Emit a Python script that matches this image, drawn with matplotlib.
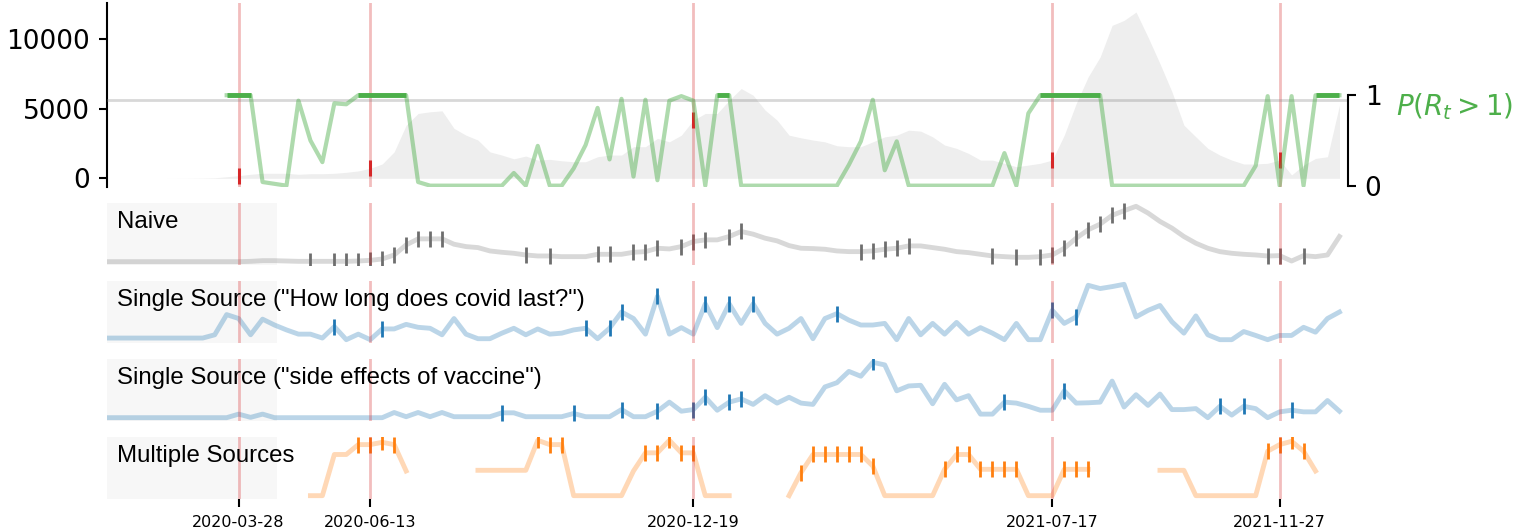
import numpy as np
import pandas as pd
import matplotlib
matplotlib.use('Agg')
import matplotlib.pyplot as plt
import matplotlib.dates as mdates
from matplotlib.patches import Rectangle

nan = np.nan

# weekly time axis and detected change points
weeks = pd.date_range('2020-01-11', periods=104, freq='7D')
change_points = pd.to_datetime(['2020-03-28', '2020-06-13', '2020-12-19', '2021-07-17', '2021-11-27'])

# weekly cases (grey area)
cases = [0, 0, 0, 0, 0, 0, 5, 10, 20, 40, 110,
         190, 290, 360, 360, 360, 290, 330, 330, 360, 430,
         530, 720, 1030, 1900, 3820, 4660, 4780, 4850, 3590, 3100,
         2750, 1900, 1670, 1400, 1600, 1310, 1360, 1260, 1190, 1190,
         1550, 1670, 1670, 2270, 2270, 2870, 2620, 3100, 4180, 4660,
         4660, 5610, 6450, 5970, 4900, 4180, 3100, 2910, 2750, 2620,
         2340, 2270, 2270, 2620, 2980, 3100, 3460, 3390, 2980, 2390,
         2150, 1790, 1310, 1310, 1080, 830, 950, 1080, 1310, 3100,
         5380, 7290, 8720, 10990, 11350, 11950, 10150, 8240, 6220, 3820,
         2980, 2150, 1670, 1310, 1030, 1030, 1080, 1310, 240, 950,
         1430, 1550, 5260]

# P(R_t > 1)
p_rt = [nan] * 10 + [
    1.0, 1.0, 1.0, 0.04, 0.02, 0.0, 0.94, 0.50, 0.26, 0.91,
    0.90, 1.0, 1.0, 1.0, 1.0, 1.0, 0.04, 0.0, 0.0, 0.0,
    0.0, 0.0, 0.0, 0.0, 0.14, 0.0, 0.44, 0.0, 0.0, 0.19,
    0.45, 0.86, 0.29, 0.96, 0.10, 0.95, 0.06, 0.94, 0.99, 0.94,
    0.0, 1.0, 1.0, 0.0, 0.0, 0.0, 0.0, 0.0, 0.0, 0.0,
    0.0, 0.0, 0.23, 0.49, 0.95, 0.17, 0.49, 0.0, 0.0, 0.0,
    0.0, 0.0, 0.0, 0.0, 0.0, 0.36, 0.0, 0.80, 1.0, 1.0,
    1.0, 1.0, 1.0, 1.0, 0.0, 0.0, 0.0, 0.0, 0.0, 0.0,
    0.0, 0.0, 0.0, 0.0, 0.0, 0.0, 0.22, 0.99, 0.0, 0.99,
    0.0, 1.0, 1.0, 1.0]

# search-volume signals (arbitrary units)
naive = [0] * 11 + [
    0, 1, 3, 3, 2, 1, 1, 1, 1, 1,
    2, 4, 8, 20, 50, 68, 68, 68, 52, 45,
    42, 32, 28, 25, 20, 17, 17, 15, 15, 15,
    22, 22, 22, 28, 30, 40, 38, 45, 60, 65,
    65, 75, 90, 82, 70, 62, 48, 40, 39, 37,
    32, 30, 30, 32, 37, 40, 47, 47, 42, 37,
    30, 27, 22, 17, 15, 13, 13, 15, 20, 40,
    70, 95, 112, 138, 152, 165, 145, 120, 100, 75,
    55, 40, 30, 25, 22, 20, 17, 18, 2, 18,
    15, 20, 75]

single_covid = [5] * 9 + [
    15, 77, 65, 15, 63, 45, 30, 17, 17, 5,
    40, 0, 17, 0, 33, 33, 47, 38, 35, 15,
    65, 17, 3, 3, 20, 35, 15, 33, 17, 20,
    30, 35, 3, 35, 85, 65, 17, 133, 17, 37,
    17, 110, 37, 110, 50, 110, 50, 17, 35, 65,
    3, 65, 80, 60, 45, 45, 50, 0, 65, 15,
    50, 17, 53, 17, 37, 20, 0, 50, 0, 0,
    90, 50, 70, 167, 157, 163, 170, 70, 90, 105,
    55, 20, 73, 15, 0, 0, 25, 13, 0, 13,
    13, 38, 23, 65, 85]

single_vaccine = [0] * 11 + [
    11, 1, 11, 0, 0, 0, 0, 0, 0, 0,
    0, 0, 0, 16, 3, 16, 3, 16, 3, 3,
    3, 3, 15, 15, 3, 3, 3, 3, 13, 3,
    3, 3, 25, 3, 3, 20, 48, 20, 25, 63,
    23, 48, 58, 41, 68, 45, 63, 45, 41, 95,
    108, 143, 128, 171, 163, 83, 98, 100, 43, 103,
    55, 68, 11, 11, 48, 45, 35, 23, 23, 83,
    45, 46, 48, 113, 33, 71, 38, 73, 25, 25,
    28, 0, 35, 8, 35, 28, 0, 18, 23, 18,
    18, 53, 20]

multiple = [nan] * 17 + [
    0, 0, 125, 125, 155, 155, 162, 155, 75,
    nan, nan, nan, nan, nan,
    77, 77, 77, 77, 77, 168, 155, 155, 0, 0,
    0, 0, 0, 75, 130, 130, 168, 130, 130, 0,
    0, 0,
    nan, nan, nan, nan,
    0, 70, 125, 125, 125, 125, 125, 90, 0, 0,
    0, 0, 0, 80, 125, 125, 80, 80, 80, 80,
    0, 0, 0, 80, 80, 80,
    nan, nan, nan, nan, nan,
    77, 77, 77, 0, 0, 0, 0, 0, 0, 135,
    155, 165, 135, 75,
    nan, nan]

# weeks (index) flagged by each method
naive_hits = [17, 19, 20, 21, 22, 23, 24, 25, 26, 27, 28, 35, 37, 41, 42, 44, 45, 46,
              48, 49, 50, 52, 53, 63, 64, 65, 66, 67, 74, 76, 78, 79, 80, 81, 82, 83,
              84, 85, 97, 98, 100]
covid_hits = [19, 23, 40, 42, 43, 46, 50, 52, 54, 61, 79, 81]
vaccine_hits = [33, 39, 43, 46, 49, 50, 52, 53, 64, 75, 80, 93, 95, 99]
multiple_hits = [21, 22, 23, 24, 36, 37, 38, 45, 46, 47, 48, 49, 58, 59, 60, 61, 62, 63,
                 64, 70, 71, 72, 73, 74, 75, 76, 80, 81, 82, 97, 98, 99, 100]

W, H = 1526, 532
fig = plt.figure(figsize=(W / 100, H / 100), dpi=100)


def add_panel(top, bottom, share=None):
    return fig.add_axes([107 / W, 1 - bottom / H, (1348 - 107) / W, (bottom - top) / H], sharex=share)


cases = np.array(cases, dtype=float)
p_rt = np.array(p_rt, dtype=float)
cp_idx = [weeks.get_loc(d) for d in change_points]

# ---- top panel: cases + P(R_t > 1)
ax = add_panel(3, 187)
ax.fill_between(weeks, cases, color='#eeeeee', lw=0, zorder=0)
for d in change_points:
    ax.axvline(d, color='tab:red', alpha=0.3, lw=2, zorder=1)
ax.plot(change_points, cases[cp_idx], '|', color='tab:red', ms=11, mew=2.2, zorder=2)
ax.set_xlim(weeks[0], weeks[-1] + pd.Timedelta(days=5))
ax.set_ylim(-624, 12600)
ax.set_yticks([0, 5000, 10000])
ax.tick_params(axis='y', labelsize=19, length=6, width=1.5, pad=6)
ax.tick_params(axis='x', bottom=False, labelbottom=False)
for s in ['top', 'right', 'bottom']:
    ax.spines[s].set_visible(False)
ax.spines['left'].set_linewidth(1.5)

ax2 = ax.twinx()
ax2.axhline(0.95, color='grey', alpha=0.3, lw=2)
ax2.plot(weeks, p_rt, color='#4daf4a', alpha=0.45, lw=3)
ax2.plot(weeks, np.where(p_rt > 0.95, p_rt, nan), color='#4daf4a', lw=3.5, solid_capstyle='butt')
ax2.set_ylim(-0.015, 2.02)
ax2.set_yticks([0, 1])
ax2.spines['right'].set_bounds(0, 1)
ax2.spines['right'].set_linewidth(1.5)
for s in ['top', 'left', 'bottom']:
    ax2.spines[s].set_visible(False)
ax2.tick_params(axis='y', labelsize=19, length=6, width=1.5, pad=6)
ax2.tick_params(axis='x', bottom=False, labelbottom=False)
fig.text(1396 / W, 1 - 107 / H, r'$P(R_t > 1)$', color='#4daf4a', fontsize=20, va='center', ha='left')

# ---- signal panels
panels = [
    (203, 265, naive, naive_hits, 'grey', '#6e6e6e', 'Naive'),
    (281, 343, single_covid, covid_hits, 'tab:blue', 'tab:blue', 'Single Source ("How long does covid last?")'),
    (359, 421, single_vaccine, vaccine_hits, 'tab:blue', 'tab:blue', 'Single Source ("side effects of vaccine")'),
    (437, 499, multiple, multiple_hits, 'tab:orange', 'tab:orange', 'Multiple Sources'),
]

for top, bottom, series, hits, light, dark, label in panels:
    a = add_panel(top, bottom, share=ax)
    series = np.array(series, dtype=float)
    a.add_patch(Rectangle((0, 0), 0.137, 1, transform=a.transAxes, color='#f7f7f7', lw=0, zorder=0))
    a.plot(weeks, series, color=light, alpha=0.3, lw=3.5, zorder=1)
    a.plot(weeks[hits], series[hits], '|', color=dark, ms=11, mew=2, zorder=2)
    for d in change_points:
        a.axvline(d, color='tab:red', alpha=0.3, lw=2, zorder=3)
    a.text(0.008, 0.69, label, transform=a.transAxes, fontsize=17.3,
           family=['Liberation Sans', 'DejaVu Sans'], va='center', ha='left', zorder=4)
    a.margins(y=0.06)
    a.set_yticks([])
    for s in a.spines.values():
        s.set_visible(False)
    a.tick_params(axis='x', bottom=False, labelbottom=False)

# dates on the bottom panel only
a.set_xticks(change_points)
a.xaxis.set_major_formatter(mdates.DateFormatter('%Y-%m-%d'))
a.tick_params(axis='x', bottom=True, labelbottom=True, labelsize=11.5, length=5.5, width=1.5, pad=6)
ax.set_xlim(weeks[0], weeks[-1] + pd.Timedelta(days=5))

fig.savefig('out.png', dpi=100)
